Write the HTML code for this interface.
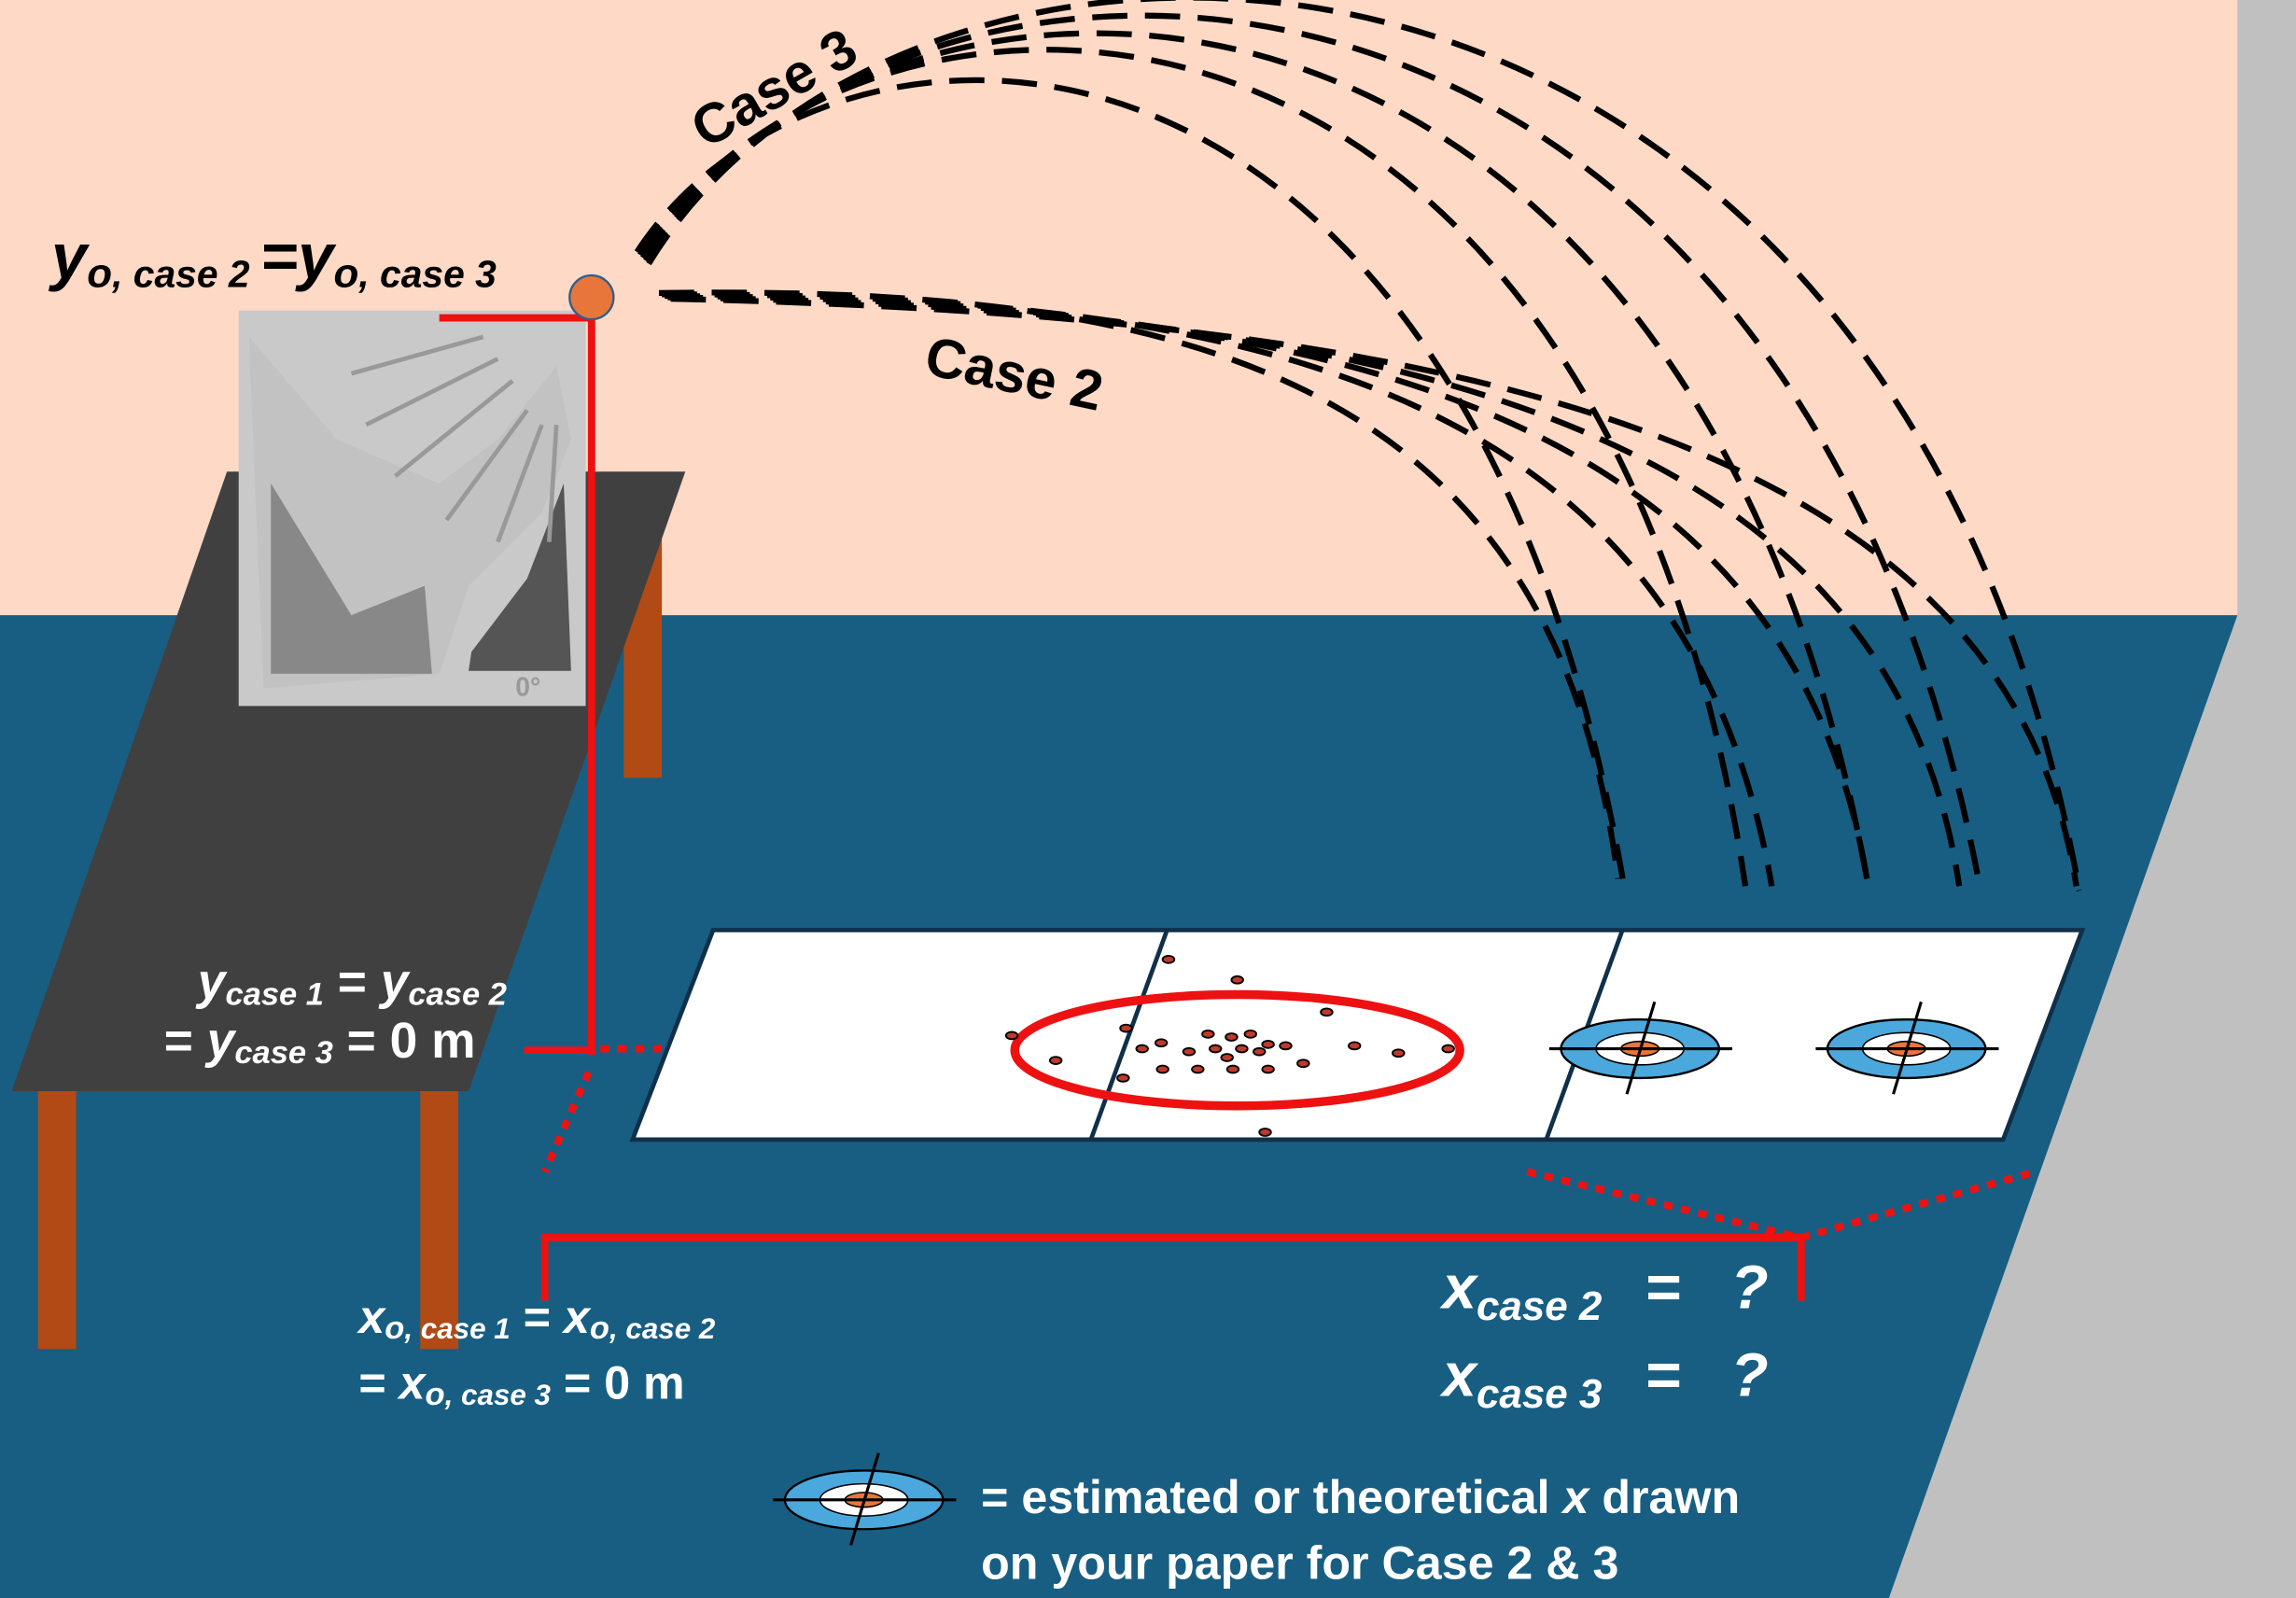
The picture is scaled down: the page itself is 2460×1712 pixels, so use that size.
<!DOCTYPE html>
<html><head><meta charset="utf-8"><style>
html,body{margin:0;padding:0;background:#fff}
svg{display:block}
text{font-family:"Liberation Sans",sans-serif;font-weight:bold}
</style></head><body>
<svg width="2460" height="1712" viewBox="0 0 1568 1091" preserveAspectRatio="none" xmlns="http://www.w3.org/2000/svg">
<rect x="0" y="0" width="1568" height="1091" fill="#C0C0C0"/>
<rect x="0" y="0" width="1528" height="420" fill="#FDD9C6"/>
<polygon points="0,420 1528,420 1290,1091 0,1091" fill="#185E82"/>
<!-- table -->
<rect x="426" y="365" width="26" height="166" fill="#B14A14"/>
<polygon points="155,322 468,322 320,745 8,745" fill="#404040"/>
<rect x="26" y="745" width="26" height="176" fill="#B14A14"/>
<rect x="287" y="745" width="26" height="176" fill="#B14A14"/>
<!-- launcher -->
<rect x="163" y="212" width="237" height="270" fill="#c9c9c9"/>
<polygon points="185,330 240,420 290,400 295,460 185,460" fill="#555"/>
<polygon points="322,445 360,395 385,330 390,458 320,458" fill="#555"/>
<polygon points="170,230 230,300 300,330 340,300 380,250 390,300 370,350 320,400 300,460 180,470" fill="#bbb" opacity="0.5"/>
<g stroke="#999" stroke-width="3">
<line x1="240" y1="255" x2="330" y2="230"/><line x1="250" y1="290" x2="340" y2="245"/>
<line x1="270" y1="325" x2="350" y2="260"/><line x1="305" y1="355" x2="360" y2="280"/>
<line x1="340" y1="370" x2="370" y2="290"/><line x1="375" y1="370" x2="380" y2="290"/>
</g>
<text x="352" y="475" font-size="18" fill="#999" font-weight="normal">0°</text>
<!-- red lines -->
<g stroke="#EE1111" stroke-width="5" fill="none">
<line x1="300" y1="217" x2="406" y2="217"/>
<line x1="404" y1="217" x2="404" y2="720"/>
<line x1="358" y1="717" x2="404" y2="717"/>
<polyline points="372,888 372,845 1230,845 1230,888"/>
</g>
<g stroke="#EE1111" stroke-width="5" fill="none" stroke-dasharray="6,6">
<line x1="410" y1="716" x2="690" y2="716"/>
<line x1="402" y1="732" x2="372" y2="800"/>
<line x1="1043" y1="800" x2="1230" y2="845"/>
<line x1="1230" y1="845" x2="1390" y2="800"/>
</g>
<!-- ball -->
<circle cx="404" cy="203" r="15" fill="#E8763A" stroke="#2e5e8a" stroke-width="1.5"/>
<!-- paper -->
<polygon points="487,635 1422,635 1368,778 432,778" fill="#fff" stroke="#10304a" stroke-width="3"/>
<line x1="797" y1="635" x2="745" y2="778" stroke="#10304a" stroke-width="3"/>
<line x1="1108" y1="635" x2="1056" y2="778" stroke="#10304a" stroke-width="3"/>
<ellipse cx="845" cy="717" rx="152" ry="38" fill="none" stroke="#EE1111" stroke-width="6"/>
<g fill="#C0392B" stroke="#000" stroke-width="1.2">
<ellipse cx="798" cy="655" rx="4" ry="2.5"/><ellipse cx="845" cy="669" rx="4" ry="2.5"/>
<ellipse cx="906" cy="691" rx="4" ry="2.5"/><ellipse cx="691" cy="707" rx="4" ry="2.5"/>
<ellipse cx="769" cy="702" rx="4" ry="2.5"/><ellipse cx="825" cy="706" rx="4" ry="2.5"/>
<ellipse cx="841" cy="708" rx="4" ry="2.5"/><ellipse cx="854" cy="706" rx="4" ry="2.5"/>
<ellipse cx="793" cy="712" rx="4" ry="2.5"/><ellipse cx="780" cy="716" rx="4" ry="2.5"/>
<ellipse cx="812" cy="718" rx="4" ry="2.5"/><ellipse cx="830" cy="716" rx="4" ry="2.5"/>
<ellipse cx="838" cy="722" rx="4" ry="2.5"/><ellipse cx="848" cy="716" rx="4" ry="2.5"/>
<ellipse cx="860" cy="718" rx="4" ry="2.5"/><ellipse cx="866" cy="713" rx="4" ry="2.5"/>
<ellipse cx="878" cy="714" rx="4" ry="2.5"/><ellipse cx="890" cy="726" rx="4" ry="2.5"/>
<ellipse cx="925" cy="714" rx="4" ry="2.5"/><ellipse cx="955" cy="719" rx="4" ry="2.5"/>
<ellipse cx="989" cy="716" rx="4" ry="2.5"/><ellipse cx="721" cy="724" rx="4" ry="2.5"/>
<ellipse cx="794" cy="730" rx="4" ry="2.5"/><ellipse cx="818" cy="730" rx="4" ry="2.5"/>
<ellipse cx="842" cy="730" rx="4" ry="2.5"/><ellipse cx="866" cy="730" rx="4" ry="2.5"/>
<ellipse cx="767" cy="736" rx="4" ry="2.5"/><ellipse cx="864" cy="773" rx="4" ry="2.5"/>
</g>
<!-- targets -->
<g id="tg">
<ellipse cx="1120" cy="716" rx="54" ry="20" fill="#4aa8dc" stroke="#000" stroke-width="1.5"/>
<ellipse cx="1120" cy="716" rx="30" ry="11" fill="#fff" stroke="#000" stroke-width="1"/>
<ellipse cx="1120" cy="716" rx="13" ry="5" fill="#E8763A" stroke="#000" stroke-width="1"/>
<line x1="1058" y1="716" x2="1183" y2="716" stroke="#000" stroke-width="2"/>
<line x1="1130" y1="684" x2="1111" y2="747" stroke="#000" stroke-width="2"/>
</g>
<use href="#tg" x="182" y="0"/>
<use href="#tg" x="-530" y="308"/>
<!-- arcs -->
<g fill="none" stroke="#000" stroke-width="4" stroke-dasharray="24,12">
<path d="M435,172 C560,-20 1000,-40 1110,610"/>
<path d="M437,174 C580,-50 1090,-70 1192,605"/>
<path d="M439,176 C600,-70 1150,-80 1275,600"/>
<path d="M441,178 C610,-90 1220,-95 1352,605"/>
<path d="M443,180 C620,-110 1290,-110 1420,608"/>
<path d="M450,200 C800,195 1060,250 1105,600"/>
<path d="M452,201 C850,200 1150,260 1210,605"/>
<path d="M454,202 C890,205 1220,270 1275,600"/>
<path d="M456,203 C930,210 1290,280 1338,605"/>
<path d="M458,204 C970,215 1370,290 1418,605"/>
</g>
<text x="0" y="0" font-size="38" transform="translate(482,102) rotate(-30)">Case 3</text>
<text x="0" y="0" font-size="38" transform="translate(630,255) rotate(12)">Case 2</text>
<!-- labels -->
<text x="35" y="190" font-size="44" font-style="italic" fill="#000">y<tspan font-size="28" dy="6">o</tspan><tspan font-size="26">, case 2 </tspan><tspan dy="-6" font-size="44">=</tspan><tspan font-size="44">y</tspan><tspan font-size="28" dy="6">o</tspan><tspan font-size="26">, case 3</tspan></text>
<g fill="#fff" font-style="italic">
<text x="135" y="682" font-size="34">y<tspan font-size="22" dy="4">case 1</tspan><tspan dy="-4" font-style="normal"> = </tspan>y<tspan font-size="22" dy="4">case 2</tspan></text>
<text x="112" y="722" font-size="34"><tspan font-style="normal">= </tspan>y<tspan font-size="22" dy="4">case 3</tspan><tspan dy="-4" font-style="normal"> = 0 m</tspan></text>
<text x="245" y="910" font-size="32">x<tspan font-size="22" dy="4">o</tspan><tspan font-size="20">, case 1</tspan><tspan dy="-4" font-style="normal"> = </tspan>x<tspan font-size="22" dy="4">o</tspan><tspan font-size="20">, case 2</tspan></text>
<text x="245" y="955" font-size="32"><tspan font-style="normal">= </tspan>x<tspan font-size="22" dy="4">o</tspan><tspan font-size="20">, case 3</tspan><tspan dy="-4" font-style="normal"> = 0 m</tspan></text>
<text x="985" y="893" font-size="42">x<tspan font-size="28" dy="8">case 2</tspan></text>
<text x="1124" y="893" font-size="42" font-style="normal">=</text>
<text x="1182" y="893" font-size="42">?</text>
<text x="985" y="953" font-size="42">x<tspan font-size="28" dy="8">case 3</tspan></text>
<text x="1124" y="953" font-size="42" font-style="normal">=</text>
<text x="1182" y="953" font-size="42">?</text>
<text x="670" y="1033" font-size="32" font-style="normal">= estimated or theoretical <tspan font-style="italic">x</tspan> drawn</text>
<text x="670" y="1078" font-size="32" font-style="normal">on your paper for Case 2 &amp; 3</text>
</g>
</svg>
</body></html>
